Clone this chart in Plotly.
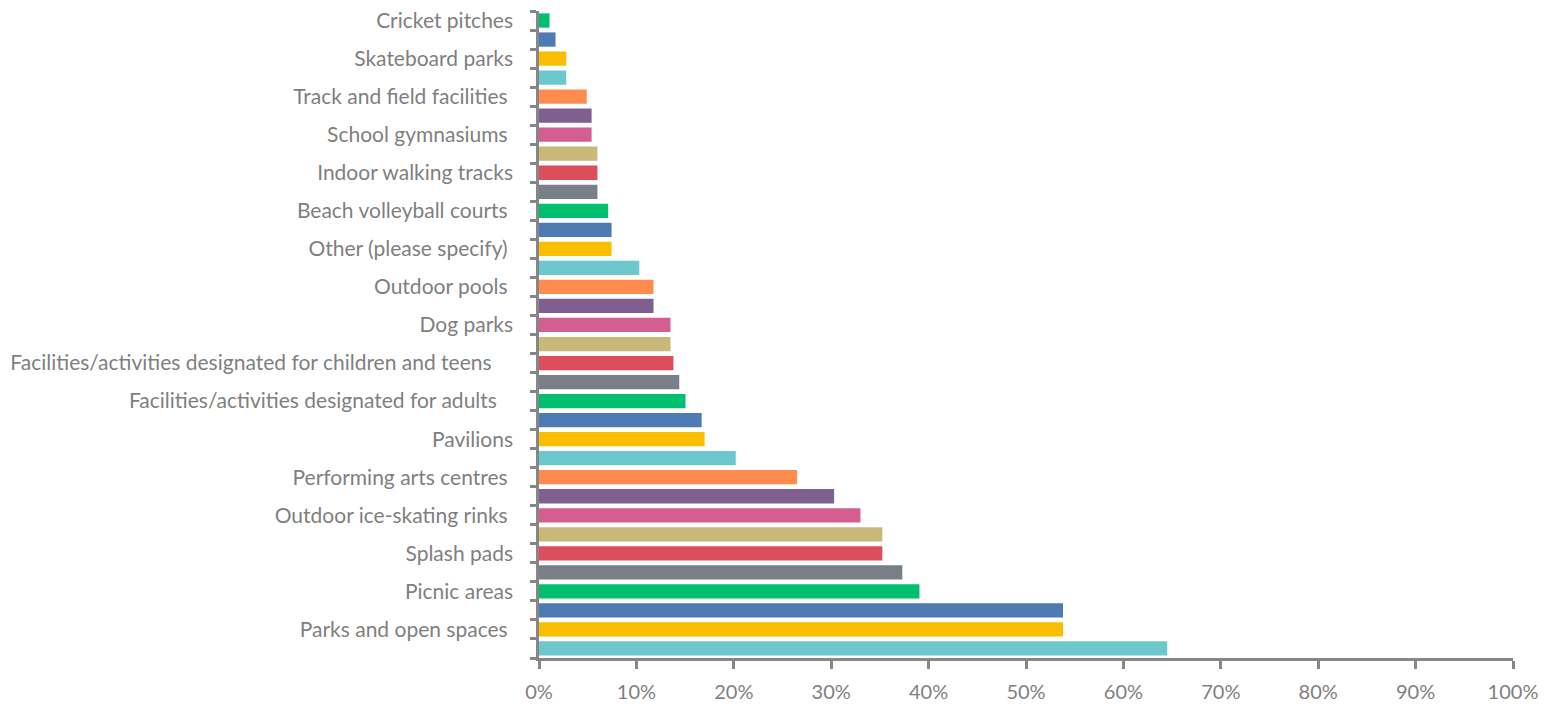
import plotly.graph_objects as go

# Values (fraction, 0-1), listed from bottom bar to top bar
values = [
    0.645, 0.538, 0.538, 0.3906, 0.373, 0.3525, 0.3525, 0.330, 0.303, 0.265,
    0.202, 0.170, 0.167, 0.1504, 0.144, 0.138, 0.135, 0.135, 0.1176, 0.1176,
    0.103, 0.0745, 0.0745, 0.071, 0.060, 0.060, 0.060, 0.054, 0.054, 0.049,
    0.028, 0.028, 0.017, 0.0108,
]

# Labels shown on the axis (every other bar, bottom to top)
labels_shown = [
    "Parks and open spaces\u00a0",
    "Picnic areas",
    "Splash pads",
    "Outdoor ice-skating rinks\u00a0",
    "Performing arts centres\u00a0",
    "Pavilions",
    "Facilities/activities designated for adults\u00a0\u00a0\u00a0",
    "Facilities/activities designated for children and teens\u00a0\u00a0\u00a0\u00a0",
    "Dog parks",
    "Outdoor pools\u00a0",
    "Other (please specify)\u00a0",
    "Beach volleyball courts\u00a0",
    "Indoor walking tracks",
    "School gymnasiums\u00a0",
    "Track and field facilities\u00a0",
    "Skateboard parks",
    "Cricket pitches",
]

x_ticks = [0, 0.1, 0.2, 0.3, 0.4, 0.5, 0.6, 0.7, 0.8, 0.9, 1.0]

palette = ["#6CC8CC", "#F9BE00", "#4F7BB5", "#00BF6F", "#787F87",
           "#DC4E5C", "#C8B87A", "#D35E8F", "#7F5F8F", "#FF8C4E"]

positions = list(range(len(values)))
bar_colors = [palette[i % len(palette)] for i in positions]
label_positions = [p for p in positions if p % 2 == 1]

axis_color = "#868686"
text_color = "#7F7F7F"
font_family = "Lato, 'Liberation Sans', sans-serif"
font_size = 21

fig = go.Figure(
    go.Bar(
        x=values,
        y=positions,
        orientation="h",
        marker=dict(color=bar_colors, line=dict(width=0)),
        width=0.75,
        hoverinfo="x",
    )
)

fig.update_layout(
    width=1546,
    height=704,
    margin=dict(l=539, r=33, t=11, b=46, autoexpand=False),
    paper_bgcolor="white",
    plot_bgcolor="white",
    showlegend=False,
    font=dict(family=font_family, size=font_size, color=text_color),
)

fig.update_xaxes(
    range=[0, 1.0],
    tickvals=x_ticks,
    tickformat=".0%",
    showgrid=False,
    zeroline=False,
    showline=True,
    linecolor=axis_color,
    linewidth=2.5,
    ticks="outside",
    ticklen=8,
    tickwidth=2.5,
    tickcolor=axis_color,
    ticklabelstandoff=6,
    tickfont=dict(size=20, color=text_color, family=font_family),
)

fig.update_yaxes(
    range=[-0.5, len(values) - 0.5],
    tickmode="array",
    tickvals=label_positions,
    ticktext=labels_shown,
    ticks="",
    ticklabelstandoff=19,
    showgrid=False,
    zeroline=False,
    showline=True,
    linecolor=axis_color,
    linewidth=2.5,
    tickfont=dict(size=font_size, color=text_color, family=font_family),
    minor=dict(
        tickmode="linear",
        tick0=-0.5,
        dtick=1,
        ticks="outside",
        ticklen=6,
        tickwidth=2.5,
        tickcolor=axis_color,
        showgrid=False,
    ),
)

fig.write_html(
    "out.html",
    config={"displayModeBar": False},
    post_script="document.body.style.margin='0';document.body.style.padding='0';",
)
